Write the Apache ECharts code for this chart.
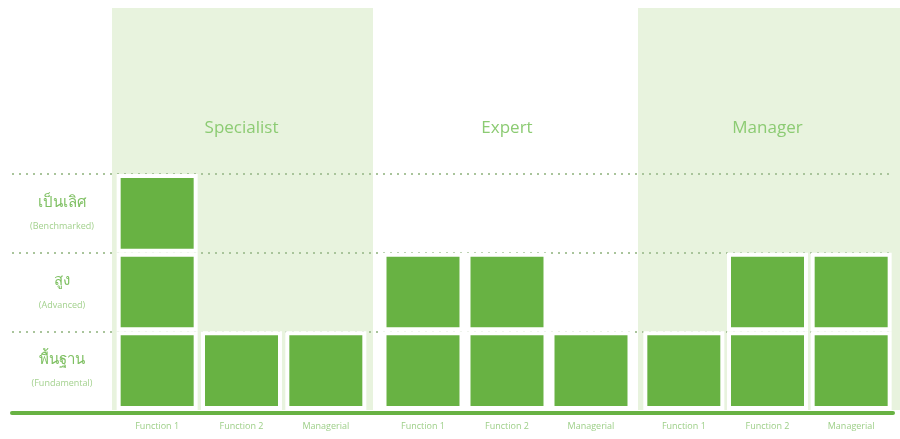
<!DOCTYPE html>
<html>
<head>
<meta charset="utf-8">
<script src="https://cdn.jsdelivr.net/npm/echarts@6/dist/echarts.min.js"></script>
<style>
  html, body { margin: 0; padding: 0; background: #ffffff; }
  #chart { width: 900px; height: 439px; }
</style>
</head>
<body>
<div id="chart"></div>
<script>
// Career tracks and the job functions inside each track
const groups = ['Specialist', 'Expert', 'Manager'];
const functions = ['Function 1', 'Function 2', 'Managerial'];

// Competency levels, from the bottom up
const levelsThai = ['พื้นฐาน', 'สูง', 'เป็นเลิศ'];
const levelsEn = ['Fundamental', 'Advanced', 'Benchmarked'];

// Highest level reached per function, one array per track
const specialistLevels = [3, 1, 1];
const expertLevels = [2, 2, 1];
const managerLevels = [1, 2, 2];
const trackLevels = [specialistLevels, expertLevels, managerLevels];

// Tracks drawn on a tinted panel
const shadedTracks = ['Specialist', 'Manager'];

const GREEN = '#68b243';
const PANEL = '#e8f3de';
const TEXT = '#8ccb73';
const DOTS = '#a9c49b';

// Pixel layout: tinted panels and the bar area of each track
const panelBoxes = {
  Specialist: { left: 112, width: 261 },
  Manager: { left: 638, right: 0 }
};
const barBoxes = [
  { left: 115, width: 253 },
  { left: 381, width: 252 },
  { left: 642, width: 251 }
];
const panelTop = 8;
const plotBottom = 29;
const unitTop = 174;                // top of the third level band
const levelCount = levelsThai.length;
// value scale so one level matches the height of one band
const unitPx = (439 - plotBottom - unitTop) / levelCount;
const barMax = (439 - plotBottom - panelTop) / unitPx;

const grids = [];
const xAxes = [];
const yAxes = [];
const series = [];

// Background grid: baseline, dotted level lines and level names
grids.push({ left: 12, right: 7, top: unitTop, bottom: plotBottom });
xAxes.push({
  gridIndex: 0, type: 'value', min: 0, max: 1, offset: 3, z: 3,
  axisLine: { show: true, lineStyle: { color: GREEN, width: 4 } },
  axisTick: { show: false }, axisLabel: { show: false }, splitLine: { show: false }
});
yAxes.push({
  gridIndex: 0, type: 'category', z: 1,
  data: levelsThai.map((t, i) => t + '\n(' + levelsEn[i] + ')'),
  axisLine: { show: false }, axisTick: { show: false },
  splitLine: {
    show: true,
    // no dotted line along the baseline itself
    interval: (index) => index > 0,
    lineStyle: { color: DOTS, width: 2, type: [2, 5] }
  },
  axisLabel: {
    margin: -50, align: 'center',
    formatter: (v) => {
      const parts = v.split('\n');
      return '{th|' + parts[0] + '}\n{en|' + parts[1] + '}';
    },
    rich: {
      th: { fontSize: 15, color: '#7fc063', lineHeight: 26, align: 'center',
            fontFamily: 'Noto Sans, DejaVu Sans, sans-serif' },
      en: { fontSize: 9, color: '#a3d18e', lineHeight: 22, align: 'center',
            fontFamily: 'Open Sans, sans-serif' }
    }
  }
});

// Tinted panels behind the shaded tracks
shadedTracks.forEach((name) => {
  const idx = grids.length;
  grids.push(Object.assign({
    top: panelTop, bottom: plotBottom,
    show: true, backgroundColor: PANEL, borderWidth: 0
  }, panelBoxes[name]));
  xAxes.push({ gridIndex: idx, type: 'value', show: false, min: 0, max: 1 });
  yAxes.push({ gridIndex: idx, type: 'value', show: false, min: 0, max: 1 });
});

// One bar grid per track
groups.forEach((g, gi) => {
  const idx = grids.length;
  grids.push(Object.assign({ top: panelTop, bottom: plotBottom }, barBoxes[gi]));

  xAxes.push({
    gridIndex: idx, type: 'category', data: functions, position: 'bottom', offset: 3,
    axisLine: { show: false }, axisTick: { show: false },
    axisLabel: { margin: 9, fontSize: 9, color: '#9dcf88', fontFamily: 'Open Sans, sans-serif' }
  });
  xAxes.push({
    gridIndex: idx, type: 'category', data: [g], position: 'top', offset: -129,
    axisLine: { show: false }, axisTick: { show: false },
    axisLabel: { margin: 0, fontSize: 17, color: TEXT, fontFamily: 'Open Sans, sans-serif' }
  });
  yAxes.push({
    gridIndex: idx, type: 'value', min: 0, max: barMax, show: false,
    splitLine: { show: false }
  });

  for (let lv = 1; lv <= levelCount; lv++) {
    series.push({
      type: 'bar',
      name: levelsEn[lv - 1],
      xAxisIndex: xAxes.length - 2,
      yAxisIndex: yAxes.length - 1,
      stack: 'track' + gi,
      barWidth: 81,
      z: 2,
      silent: true,
      itemStyle: { color: GREEN, borderColor: '#ffffff', borderWidth: 4 },
      data: trackLevels[gi].map(v => (v >= lv ? 1 : '-'))
    });
  }
});

const chart = echarts.init(document.getElementById('chart'), null, { renderer: 'canvas' });
chart.setOption({
  animation: false,
  backgroundColor: '#ffffff',
  grid: grids,
  xAxis: xAxes,
  yAxis: yAxes,
  series: series
});
</script>
</body>
</html>
